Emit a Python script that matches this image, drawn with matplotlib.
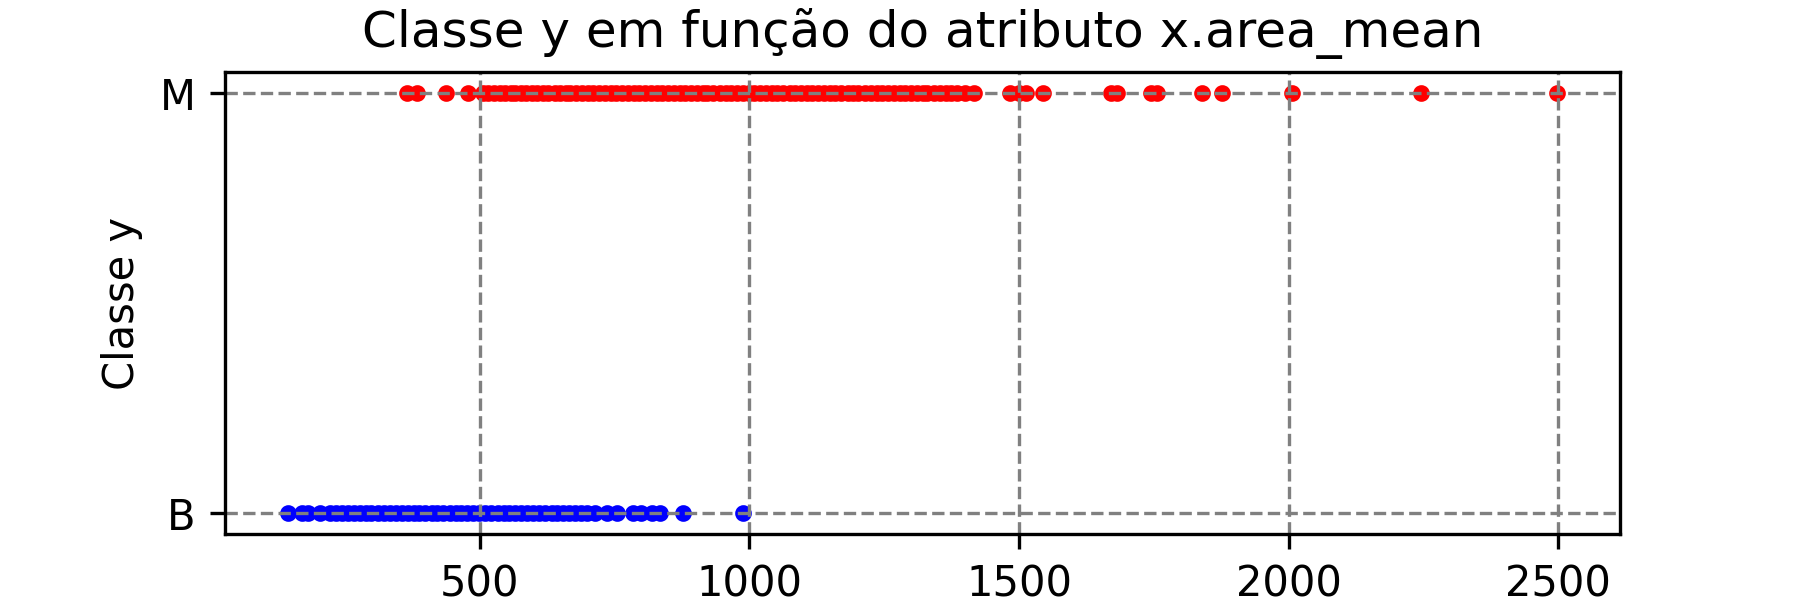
import numpy as np
import matplotlib
matplotlib.use("Agg")
import matplotlib.pyplot as plt

# area_mean values, per class
area_B = [145, 170, 182, 204, 223, 234, 245, 256, 266, 278, 289, 299, 311, 322,
          333, 344, 355, 366, 378, 388, 399, 411, 421, 432, 444, 455, 466, 477,
          488, 499, 510, 521, 533, 544, 555, 566, 577, 588, 599, 610, 621, 633,
          644, 655, 666, 677, 688, 699, 714, 736, 754, 785, 798, 819, 835, 877,
          989]
area_M = [365, 383, 437, 478, 505, 515, 527, 538, 546, 558, 566, 577, 585, 597,
          606, 618, 627, 639, 648, 659, 668, 679, 690, 701, 710, 721, 733, 744,
          752, 764, 775, 786, 795, 806, 817, 829, 838, 849, 860, 871, 880, 892,
          903, 914, 922, 933, 945, 956, 965, 977, 988, 999, 1008, 1020, 1031,
          1041, 1052, 1063, 1075, 1084, 1096, 1107, 1116, 1128, 1139, 1150, 1159,
          1170, 1182, 1193, 1202, 1214, 1225, 1236, 1245, 1257, 1268, 1279, 1288,
          1299, 1310, 1321, 1330, 1342, 1353, 1364, 1373, 1385, 1400, 1416, 1483,
          1500, 1513, 1544, 1670, 1682, 1744, 1756, 1840, 1877, 2007, 2246, 2497]

fig, ax = plt.subplots(figsize=(6, 2), dpi=300)
ax.scatter(area_B, ['B'] * len(area_B), c='blue', s=9)
ax.scatter(area_M, ['M'] * len(area_M), c='red', s=9)
ax.set_title('Classe y em função do atributo x.area_mean')
ax.set_ylabel('Classe y')
ax.grid(True, color='gray', linestyle='--')
plt.savefig('out.png')
